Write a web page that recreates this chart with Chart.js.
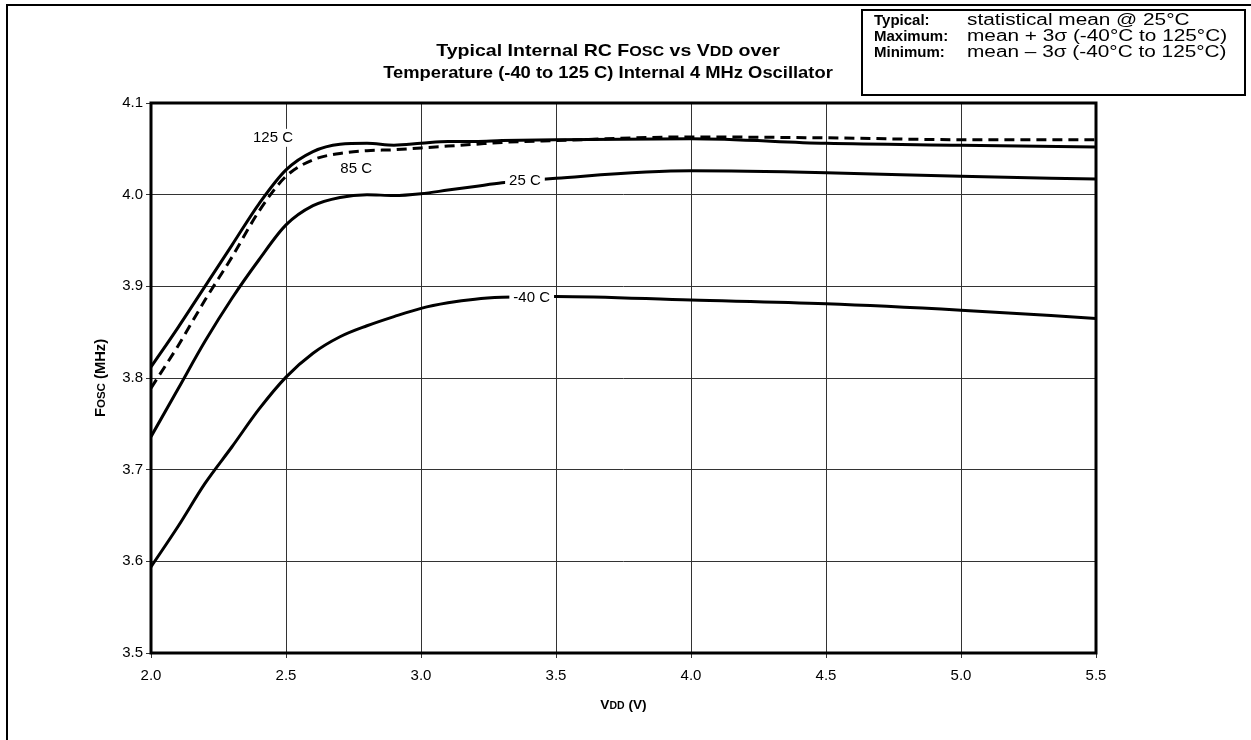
<!DOCTYPE html>
<html>
<head>
<meta charset="utf-8">
<script src="https://cdn.jsdelivr.net/npm/chart.js@4.4.0/dist/chart.umd.min.js"></script>
<style>
  html, body { margin: 0; padding: 0; background: #fff; }
  #wrap { position: relative; width: 1251px; height: 740px; }
</style>
</head>
<body>
<div id="wrap"><canvas id="oscChart" width="1251" height="740"></canvas></div>
<script>
// VDD (V) sample points, shared by every curve
const vddPoints = [2.0, 2.1, 2.2, 2.3, 2.4, 2.5, 2.6, 2.7, 2.8, 2.9, 3.0, 3.1, 3.2, 3.3, 3.5, 4.0, 4.5, 5.0, 5.5];

// Fosc (MHz)
const fosc125 = [3.812, 3.855, 3.900, 3.945, 3.990, 4.027, 4.047, 4.055, 4.056, 4.054, 4.056, 4.058, 4.058, 4.059, 4.060, 4.061, 4.056, 4.054, 4.052];
const fosc85  = [3.789, 3.835, 3.885, 3.932, 3.982, 4.020, 4.038, 4.045, 4.048, 4.049, 4.051, 4.053, 4.055, 4.057, 4.059, 4.063, 4.062, 4.060, 4.060];
const fosc25  = [3.736, 3.788, 3.840, 3.887, 3.929, 3.967, 3.988, 3.997, 4.000, 3.999, 4.001, 4.005, 4.009, 4.013, 4.018, 4.026, 4.024, 4.020, 4.017];
const foscM40 = [3.594, 3.638, 3.685, 3.725, 3.766, 3.801, 3.827, 3.845, 3.857, 3.867, 3.876, 3.882, 3.886, 3.888, 3.889, 3.885, 3.881, 3.874, 3.865];

// curve labels: text, VDD, Fosc
const curveLabels = [
  { text: '125 C', x: 2.452, y: 4.062 },
  { text: '85 C',  x: 2.760, y: 4.028 },
  { text: '25 C',  x: 3.385, y: 4.015 },
  { text: '-40 C', x: 3.410, y: 3.887 }
];

// axis ticks
const xTicks = { min: 2.0, max: 5.5, step: 0.5 };
const yTicks = { min: 3.5, max: 4.1, step: 0.1 };

// note box rows
const noteRows = [
  ['Typical:', 'statistical mean @ 25\u00B0C'],
  ['Maximum:', 'mean + 3\u03C3 (-40\u00B0C to 125\u00B0C)'],
  ['Minimum:', 'mean \u2013 3\u03C3 (-40\u00B0C to 125\u00B0C)']
];

const FONT = '"Liberation Sans", Arial, sans-serif';

function toXY(ys) {
  return vddPoints.map((v, i) => ({ x: v, y: ys[i] }));
}

function curve(label, ys, dash) {
  return {
    label: label,
    data: toXY(ys),
    borderColor: '#000',
    borderWidth: 3,
    borderDash: dash || [],
    pointRadius: 0,
    fill: false,
    cubicInterpolationMode: 'monotone'
  };
}

// text runs of mixed size (small caps like Fosc / VDD), optionally widened
function runsWidth(ctx, runs) {
  let w = 0;
  runs.forEach(r => { ctx.font = r.font; w += ctx.measureText(r.t).width; });
  return w;
}
function drawRuns(ctx, runs, x, y, align, sx) {
  sx = sx || 1;
  const w = runsWidth(ctx, runs) * sx;
  let x0 = align === 'left' ? x : x - w / 2;
  ctx.save();
  ctx.translate(x0, y);
  ctx.scale(sx, 1);
  let cx = 0;
  runs.forEach(r => {
    ctx.font = r.font;
    ctx.fillText(r.t, cx, 0);
    cx += ctx.measureText(r.t).width;
  });
  ctx.restore();
}

const decorPlugin = {
  id: 'decor',
  afterDatasetsDraw(chart) {
    const ctx = chart.ctx;
    const xs = chart.scales.x, ys = chart.scales.y;
    const a = chart.chartArea;

    // white-backed labels on the curves
    ctx.save();
    ctx.font = '15px ' + FONT;
    ctx.textBaseline = 'middle';
    ctx.textAlign = 'center';
    curveLabels.forEach(l => {
      const px = xs.getPixelForValue(l.x);
      const py = ys.getPixelForValue(l.y);
      const w = ctx.measureText(l.text).width;
      ctx.fillStyle = '#fff';
      ctx.fillRect(px - w / 2 - 4, py - 9, w + 8, 18);
      ctx.fillStyle = '#000';
      ctx.fillText(l.text, px, py);
    });
    ctx.restore();

    // plot frame
    ctx.save();
    ctx.strokeStyle = '#000';
    ctx.lineWidth = 3;
    ctx.strokeRect(a.left, a.top, a.right - a.left, a.bottom - a.top);
    ctx.restore();
  },
  afterDraw(chart) {
    const ctx = chart.ctx;
    const a = chart.chartArea;
    ctx.save();
    ctx.fillStyle = '#000';
    ctx.textBaseline = 'alphabetic';

    // title
    const big = 'bold 17px ' + FONT, small = 'bold 14px ' + FONT;
    drawRuns(ctx, [
      { t: 'Typical Internal RC F', font: big }, { t: 'OSC', font: small },
      { t: ' vs V', font: big }, { t: 'DD', font: small }, { t: ' over', font: big }
    ], 608, 56, 'center', 1.15);
    drawRuns(ctx, [{ t: 'Temperature (-40 to 125 C) Internal 4 MHz Oscillator', font: big }], 608, 78, 'center', 1.08);

    // x axis title
    drawRuns(ctx, [
      { t: 'V', font: 'bold 13px ' + FONT }, { t: 'DD', font: 'bold 10px ' + FONT },
      { t: ' (V)', font: 'bold 13px ' + FONT }
    ], (a.left + a.right) / 2, 709, 'center', 1.05);

    // y axis title
    ctx.save();
    ctx.translate(105, (a.top + a.bottom) / 2);
    ctx.rotate(-Math.PI / 2);
    drawRuns(ctx, [
      { t: 'F', font: 'bold 14px ' + FONT }, { t: 'OSC', font: 'bold 11px ' + FONT },
      { t: ' (MHz)', font: 'bold 14px ' + FONT }
    ], 0, 0, 'center', 1.05);
    ctx.restore();

    // note box
    ctx.lineWidth = 2;
    ctx.strokeStyle = '#000';
    ctx.strokeRect(862, 10, 383, 85);
    noteRows.forEach((row, i) => {
      const y = 25 + i * 16;
      drawRuns(ctx, [{ t: row[0], font: 'bold 15px ' + FONT }], 874, y, 'left', 1.0);
      drawRuns(ctx, [{ t: row[1], font: '16px ' + FONT }], 967, y, 'left', 1.3);
    });

    // outer frame (left and top edges)
    ctx.lineWidth = 2;
    ctx.beginPath();
    ctx.moveTo(7, 740);
    ctx.lineTo(7, 5);
    ctx.lineTo(1251, 5);
    ctx.stroke();
    ctx.restore();
  }
};

new Chart(document.getElementById('oscChart'), {
  type: 'line',
  data: {
    datasets: [
      curve('125 C', fosc125),
      curve('85 C', fosc85, [10, 6]),
      curve('25 C', fosc25),
      curve('-40 C', foscM40)
    ]
  },
  options: {
    responsive: false,
    animation: false,
    devicePixelRatio: 1,
    layout: { padding: { top: 103, right: 155, left: 0, bottom: 0 } },
    plugins: {
      legend: { display: false },
      title: { display: false },
      tooltip: { enabled: false }
    },
    scales: {
      x: {
        type: 'linear',
        min: xTicks.min,
        max: xTicks.max,
        afterFit: s => { s.height = 87; },
        ticks: {
          stepSize: xTicks.step,
          color: '#000',
          padding: 9,
          font: { family: FONT, size: 15 },
          callback: v => v.toFixed(1)
        },
        grid: { color: '#333', lineWidth: 1, tickLength: 5 },
        border: { display: false }
      },
      y: {
        type: 'linear',
        min: yTicks.min,
        max: yTicks.max,
        afterFit: s => { s.width = 151; },
        ticks: {
          stepSize: yTicks.step,
          color: '#000',
          padding: 3,
          font: { family: FONT, size: 15 },
          callback: v => v.toFixed(1)
        },
        grid: { color: '#333', lineWidth: 1, tickLength: 5 },
        border: { display: false }
      }
    }
  },
  plugins: [decorPlugin]
});
</script>
</body>
</html>
